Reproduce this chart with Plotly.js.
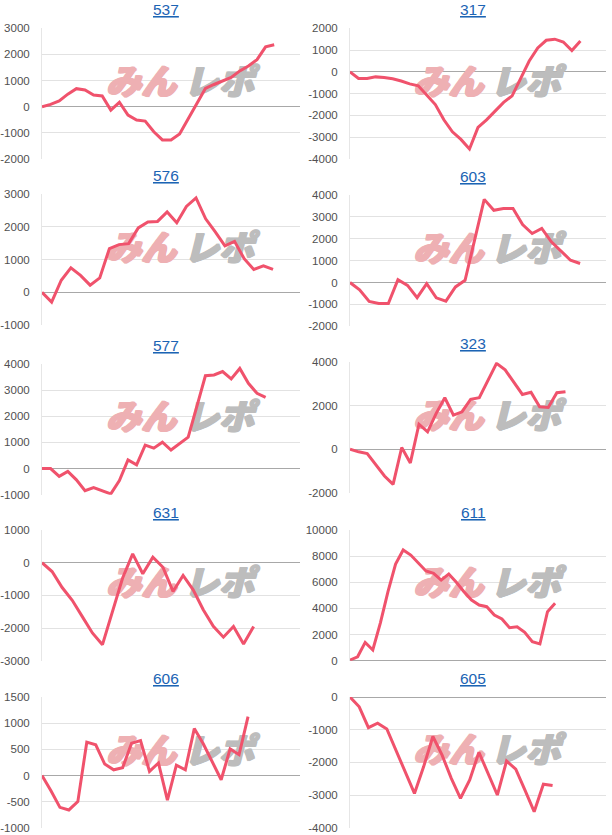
<!DOCTYPE html>
<html>
<head>
<meta charset="utf-8">
<script src="https://cdn.plot.ly/plotly-3.0.1.min.js"></script>
<style>html,body{margin:0;padding:0;background:#fff;}#chart{width:612px;height:835px;}</style>
</head>
<body>
<div id="chart"></div>
<script>
// ---- data ----
const titles = ['537', '317', '576', '603', '577', '323', '631', '611', '606', '605'];

const s537 = [0, 90, 220, 480, 690, 640, 450, 410, -130, 170, -320, -510, -550, -960, -1270, -1270, -1040, -460, 115, 700, 850, 980, 1120, 1370, 1560, 1800, 2290, 2370];
const s317 = [0, -300, -300, -230, -260, -320, -420, -550, -640, -1050, -1500, -2200, -2750, -3100, -3540, -2550, -2200, -1800, -1400, -1100, -300, 500, 1100, 1450, 1500, 1370, 980, 1420];
const s576 = [0, -300, 370, 750, 520, 220, 440, 1340, 1460, 1490, 1970, 2150, 2170, 2460, 2130, 2630, 2890, 2250, 1850, 1420, 1560, 1030, 700, 810, 700];
const s603 = [0, -330, -860, -960, -960, 130, -130, -690, -50, -700, -850, -200, 100, 1940, 3800, 3300, 3380, 3380, 2650, 2240, 2470, 1860, 1430, 1020, 870];
const s577 = [0, 0, -300, -110, -430, -850, -730, -850, -970, -460, 330, 140, 900, 780, 1010, 710, 970, 1200, 2370, 3550, 3580, 3710, 3430, 3830, 3260, 2880, 2720];
const s323 = [0, -120, -200, -740, -1230, -1620, 80, -630, 1150, 800, 1650, 2370, 1570, 1720, 2300, 2370, 3180, 3950, 3650, 3110, 2520, 2620, 1950, 1920, 2600, 2650];
const s631 = [0, -270, -760, -1150, -1650, -2150, -2510, -1510, -470, 270, -340, 170, -140, -880, -390, -830, -1440, -1950, -2280, -1950, -2490, -1950];
const s611 = [50, 300, 1400, 820, 2900, 5280, 7400, 8470, 8080, 7450, 6860, 6680, 6170, 6630, 6000, 5280, 4640, 4260, 4130, 3500, 3190, 2530, 2600, 2170, 1450, 1280, 3750, 4390];
const s606 = [0, -290, -610, -660, -500, 640, 590, 220, 110, 150, 620, 670, 80, 240, -470, 200, 110, 900, 610, 270, -80, 510, 400, 1130];
const s605 = [0, -300, -940, -800, -980, -1620, -2270, -2950, -2130, -1210, -1780, -2490, -3100, -2540, -1690, -2340, -3000, -1960, -2210, -2850, -3510, -2670, -2710];

const ticks537 = [-2000, -1000, 0, 1000, 2000, 3000];
const ticks317 = [-4000, -3000, -2000, -1000, 0, 1000, 2000];
const ticks576 = [-1000, 0, 1000, 2000, 3000];
const ticks603 = [-2000, -1000, 0, 1000, 2000, 3000, 4000];
const ticks577 = [-1000, 0, 1000, 2000, 3000, 4000];
const ticks323 = [-2000, 0, 2000, 4000];
const ticks631 = [-3000, -2000, -1000, 0, 1000];
const ticks611 = [0, 2000, 4000, 6000, 8000, 10000];
const ticks606 = [-1000, -500, 0, 500, 1000, 1500];
const ticks605 = [-4000, -3000, -2000, -1000, 0];

const watermarkA = 'みん';
const watermarkB = 'レポ';

// ---- layout constants ----
const series = [s537, s317, s576, s603, s577, s323, s631, s611, s606, s605];
const tickSets = [ticks537, ticks317, ticks576, ticks603, ticks577, ticks323, ticks631, ticks611, ticks606, ticks605];
const W = 612, H = 835;
const colX = [[42, 300], [350, 606]];
const rowY = [[28.3, 159], [28.3, 159], [194.3, 325], [195, 326.3], [364, 494.7], [362.3, 492.7], [530, 660.7], [530, 660.7], [697.3, 827.7], [697, 827.7]];
const titleY = [9.5, 10, 175.7, 176.7, 345, 343.3, 512.3, 512.3, 678.3, 678.3];
const titleX = [166, 473];
const xMax = [30, 30, 26.8, 26.7, 30, 29.7, 25.6, 33.7, 28.8, 27.8];

const LINE = '#f0526c';
const PINK = '#eeb0b3', GREY = '#bdbdbd';
const heavy = c => ['1px 0 0 ', '2px 0 0 ', '0 1px 0 ', '1px 1px 0 ', '2px 1px 0 '].map(s => s + c).join(', ');

const traces = [];
const layout = {
  width: W, height: H,
  margin: {l: 0, r: 0, t: 0, b: 0},
  paper_bgcolor: '#ffffff', plot_bgcolor: 'rgba(0,0,0,0)',
  showlegend: false,
  font: {family: 'Arial, "Liberation Sans", sans-serif', color: '#505050', size: 11.5},
  annotations: []
};

series.forEach((s, i) => {
  const n = i + 1;
  const xa = n === 1 ? 'x' : 'x' + n;
  const ya = n === 1 ? 'y' : 'y' + n;
  const col = i % 2;
  const tv = tickSets[i];
  const ymin = tv[0], ymax = tv[tv.length - 1];
  const xs = s.map((_, k) => k);
  const wy = ymin + (ymax - ymin) * 0.566;

  // watermark (drawn first, under the line)
  traces.push({
    type: 'scatter', mode: 'text', xaxis: xa, yaxis: ya,
    x: [xMax[i] * 0.381], y: [wy], text: [watermarkA], textposition: 'middle center', hoverinfo: 'skip',
    textfont: {family: '"Noto Sans CJK JP", sans-serif', size: 35, color: PINK, weight: 900, style: 'italic', shadow: heavy(PINK)}
  });
  traces.push({
    type: 'scatter', mode: 'text', xaxis: xa, yaxis: ya,
    x: [xMax[i] * 0.682], y: [wy], text: [watermarkB], textposition: 'middle center', hoverinfo: 'skip',
    textfont: {family: '"Noto Sans CJK JP", sans-serif', size: 35, color: GREY, weight: 900, style: 'italic', shadow: heavy(GREY)}
  });
  traces.push({
    type: 'scatter', mode: 'lines', xaxis: xa, yaxis: ya,
    x: xs, y: s, line: {color: LINE, width: 3}, hoverinfo: 'skip'
  });

  const xkey = n === 1 ? 'xaxis' : 'xaxis' + n;
  const ykey = n === 1 ? 'yaxis' : 'yaxis' + n;
  layout[xkey] = {
    domain: [colX[col][0] / W, colX[col][1] / W],
    range: [0, xMax[i]], anchor: ya,
    showgrid: false, zeroline: false, showline: false, showticklabels: false, ticks: '', fixedrange: true
  };
  layout[ykey] = {
    domain: [1 - rowY[i][1] / H, 1 - rowY[i][0] / H],
    range: [ymin, ymax], anchor: xa,
    tickmode: 'array', tickvals: tv, ticktext: tv.map(v => String(v)),
    showgrid: true, gridcolor: '#e2e2e2', gridwidth: 1,
    zeroline: true, zerolinecolor: '#a8a8a8', zerolinewidth: 1,
    showline: true, linecolor: '#e6e6e6', linewidth: 1,
    ticks: '', ticklabelstandoff: 9,
    tickfont: {size: 11.5, color: '#505050'}, fixedrange: true
  };
  layout.annotations.push({
    xref: 'paper', yref: 'paper',
    x: titleX[col] / W, y: 1 - titleY[i] / H,
    xanchor: 'center', yanchor: 'middle', showarrow: false,
    text: '<u>' + titles[i] + '</u>',
    font: {size: 15.5, color: '#1c64b4', family: 'Arial, "Liberation Sans", sans-serif'}
  });
});

Plotly.newPlot('chart', traces, layout, {displayModeBar: false, staticPlot: true});
</script>
</body>
</html>
